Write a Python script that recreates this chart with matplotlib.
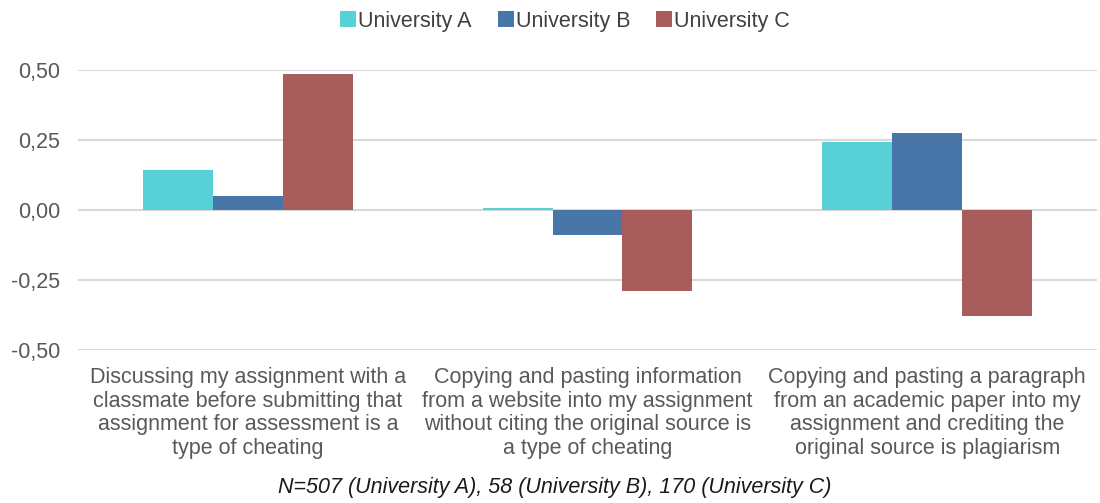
import matplotlib.pyplot as plt
import numpy as np

plt.rcParams['font.family'] = ['Liberation Sans', 'DejaVu Sans']

# Daten
categories = [
    "Discussing my assignment with a\nclassmate before submitting that\nassignment for assessment is a\ntype of cheating",
    "Copying and pasting information\nfrom a website into my assignment\nwithout citing the original source is\na type of cheating",
    "Copying and pasting a paragraph\nfrom an academic paper into my\nassignment and crediting the\noriginal source is plagiarism",
]
series_names = ["University A", "University B", "University C"]
uni_a = [0.143, 0.006, 0.242]
uni_b = [0.051, -0.090, 0.274]
uni_c = [0.486, -0.290, -0.377]
y_ticks = [-0.50, -0.25, 0.00, 0.25, 0.50]
footer = "N=507 (University A), 58 (University B), 170 (University C)"

colors = ["#4ECFD3", "#3E6FA3", "#A45353"]
grey = "#595959"

fig = plt.figure(figsize=(11, 5.03), dpi=100)
ax = fig.add_axes([78 / 1100, 1 - 350 / 503, 1019 / 1100, 280 / 503])

x = np.arange(len(categories))
width = 70 / 340
for i, (vals, name) in enumerate(zip([uni_a, uni_b, uni_c], series_names)):
    ax.bar(x + (i - 1) * width, vals, width, color=colors[i], alpha=0.95,
           linewidth=0, label=name, zorder=3)

ax.set_xlim(-0.5, 2.5)
ax.set_ylim(-0.5, 0.5)
ax.set_yticks(y_ticks)
ax.set_yticklabels([f"{t:.2f}".replace(".", ",") for t in y_ticks])
ax.grid(axis="y", color="#d9d9d9", linewidth=1.5, zorder=1)
ax.set_axisbelow(True)
for s in ax.spines.values():
    s.set_visible(False)
ax.tick_params(axis="y", length=0, pad=13, labelsize=15.5, labelcolor=grey)
ax.set_xticks([])

# Kategorienbeschriftung
for xi, cat in zip(x, categories):
    ax.annotate(cat, xy=(xi, -0.5), xycoords="data", xytext=(0, -12),
                textcoords="offset points", ha="center", va="top",
                fontsize=15.5, color=grey, linespacing=1.18)

ax.legend(loc="lower center", bbox_to_anchor=(0.478, 1.068), ncol=3, frameon=False,
          fontsize=15.5, handlelength=0.75, handleheight=0.75, handletextpad=0.1,
          columnspacing=1.2, labelcolor="#404040")

fig.text(0.504, 1 - 487 / 503, footer, ha="center", va="center",
         fontsize=15.5, style="italic", color="#1a1a1a")

fig.savefig("out.png", dpi=100)
